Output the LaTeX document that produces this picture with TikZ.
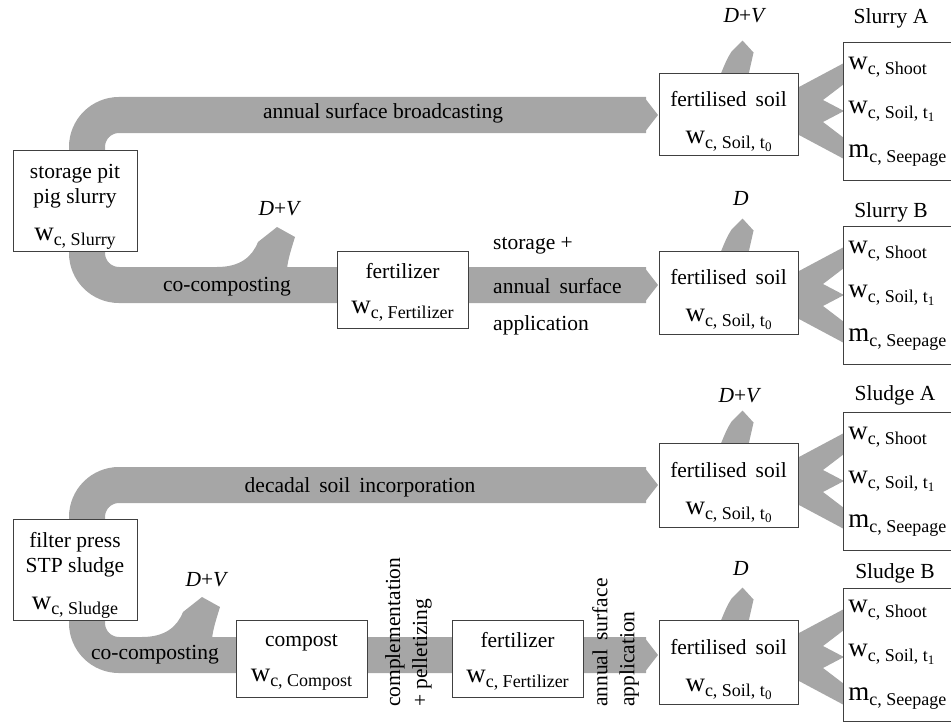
\documentclass[tikz,border=0pt]{standalone}
\usepackage{fontspec}
\setmainfont{Liberation Serif}
\usetikzlibrary{calc,backgrounds}
\definecolor{bandc}{RGB}{166,166,166}
\newcommand{\wsp}{\hspace{9pt}}
\newcommand{\ssp}{\hspace{4.5pt}}
\newcommand{\wv}[2]{{\fontsize{27}{27}\selectfont #1}\raisebox{-5pt}{\fontsize{18}{18}\selectfont #2}}
\newcommand{\tsub}[1]{\raisebox{-3pt}{\fontsize{13}{13}\selectfont #1}}
\begin{document}
\begin{tikzpicture}[x=1pt,y=-1pt,
  font=\fontsize{21.5}{25}\selectfont,
  box/.style={draw=black!75, line width=0.9pt, fill=white, inner sep=0pt, align=center},
  rbox/.style={draw=black!75, line width=0.9pt, fill=white, inner xsep=5pt, inner ysep=0pt, align=left, text width=112pt, minimum height=138pt, anchor=north west},
  lbl/.style={inner sep=0pt},
  band/.style={draw=bandc, line width=36pt, rounded corners=32pt},
  svent/.pic={\fill[bandc] (62,2) .. controls (66,-8) and (69,-15) .. (73,-21) -- (84,-32) -- (95,-20) -- (90,2) -- cycle;},
  bvent/.pic={\fill[bandc] (0,2) -- (0,0) .. controls (23,0) and (35,-10) .. (41,-25) -- (60,-40) -- (78,-30) .. controls (74,-17) and (71,-8) .. (70,2) -- cycle;},
  fork/.pic={\fill[bandc] (1,-24) -- (46,-48) -- (46,-27) -- (25,-11) -- (46,0) -- (25,11) -- (46,27) -- (46,48) -- (1,24) -- cycle;},
  head/.pic={\fill[bandc] (-1,-18) -- (13,0) -- (-1,18) -- cycle;}
]
\clip (0,0) rectangle (951,725);

% ---------- nodes ----------
\node[box, minimum width=124pt, minimum height=101pt] (pit) at (75,200.5)
  {\rule{0pt}{26pt}storage pit\\pig slurry\\[12pt]\wv{w}{c,\ssp Slurry}};
\node[box, minimum width=131pt, minimum height=77pt] (fertA) at (402.5,289.5)
  {\rule{0pt}{20pt}fertilizer\\[10pt]\wv{w}{c,\ssp Fertilizer}};
\node[box, minimum width=124pt, minimum height=101pt] (filter) at (75,569.5)
  {\rule{0pt}{26pt}filter press\\STP sludge\\[12pt]\wv{w}{c,\ssp Sludge}};
\node[box, minimum width=131pt, minimum height=77pt] (compost) at (301.5,658.5)
  {\rule{0pt}{20pt}compost\\[10pt]\wv{w}{c,\ssp Compost}};
\node[box, minimum width=131pt, minimum height=77pt] (fertB) at (517.5,658.5)
  {\rule{0pt}{20pt}fertilizer\\[10pt]\wv{w}{c,\ssp Fertilizer}};

\node[box, minimum width=139pt, minimum height=82pt] (soilA) at (728.5,114)
  {\rule{0pt}{30pt}fertilised\wsp soil\\[12pt]\wv{w}{c,\ssp Soil,\ssp t\tsub{0}}};
\node[box, minimum width=139pt, minimum height=83pt] (soilB) at (728.5,292.5)
  {\rule{0pt}{30pt}fertilised\wsp soil\\[12pt]\wv{w}{c,\ssp Soil,\ssp t\tsub{0}}};
\node[box, minimum width=139pt, minimum height=84pt] (soilC) at (728.5,485)
  {\rule{0pt}{30pt}fertilised\wsp soil\\[12pt]\wv{w}{c,\ssp Soil,\ssp t\tsub{0}}};
\node[box, minimum width=139pt, minimum height=84pt] (soilD) at (728.5,662)
  {\rule{0pt}{30pt}fertilised\wsp soil\\[12pt]\wv{w}{c,\ssp Soil,\ssp t\tsub{0}}};

\node[rbox] (resA) at (843,42)
  {\wv{w}{c,\ssp Shoot}\\[19pt]\wv{w}{c,\ssp Soil,\ssp t\tsub{1}}\\[19pt]\wv{m}{c,\ssp Seepage}};
\node[rbox] (resB) at (843,226)
  {\wv{w}{c,\ssp Shoot}\\[19pt]\wv{w}{c,\ssp Soil,\ssp t\tsub{1}}\\[19pt]\wv{m}{c,\ssp Seepage}};
\node[rbox] (resC) at (843,412)
  {\wv{w}{c,\ssp Shoot}\\[19pt]\wv{w}{c,\ssp Soil,\ssp t\tsub{1}}\\[19pt]\wv{m}{c,\ssp Seepage}};
\node[rbox, minimum height=133pt] (resD) at (843,588)
  {\wv{w}{c,\ssp Shoot}\\[19pt]\wv{w}{c,\ssp Soil,\ssp t\tsub{1}}\\[19pt]\wv{m}{c,\ssp Seepage}};

% ---------- labels ----------
\node[lbl] (tA) at (891,18) {Slurry A};
\node[lbl] (tB) at (891,212) {Slurry B};
\node[lbl] (tC) at (895,395) {Sludge A};
\node[lbl] (tD) at (895,573) {Sludge B};

\node[lbl] (dvA) at (745,16) {\textit{D}+\textit{V}};
\node[lbl] (dB) at (741,198) {\textit{D}};
\node[lbl] (dvC) at (740,396) {\textit{D}+\textit{V}};
\node[lbl] (dD) at (741,568) {\textit{D}};
\node[lbl] (dvB) at (280,209) {\textit{D}+\textit{V}};
\node[lbl] (dvD) at (207,580) {\textit{D}+\textit{V}};

\node[lbl] (lb1) at (383,113) {annual surface broadcasting};
\node[lbl] (lb2) at (227,287) {co-composting};
\node[lbl, anchor=west] (lb3a) at (493,246) {storage +};
\node[lbl, anchor=west] (lb3b) at (493,286) {annual\wsp surface};
\node[lbl, anchor=west] (lb3c) at (493,325) {application};
\node[lbl] (lb4) at (360,487) {decadal\wsp soil\wsp incorporation};
\node[lbl] (lb5) at (155,655) {co-composting};
\node[lbl, rotate=90, anchor=west, align=left] (lb6) at (408.5,707)
  {complementation\\[2pt]+ pelletizing};
\node[lbl, rotate=90, anchor=west, align=left] (lb7) at (615.5,707)
  {annual\wsp surface\\[2pt]application};

% ---------- bands ----------
\begin{scope}[on background layer]
  \coordinate (hA) at (646,115);
  \coordinate (hB) at (646,285);
  \coordinate (hC) at (646,485);
  \coordinate (hD) at (646,655);
  \draw[band] (hA) -- (87,115) -- (87,285) -- (hB);
  \draw[band] (hC) -- (87,485) -- (87,655) -- (hD);
  \pic at (645,115) {head};
  \pic at (645,285) {head};
  \pic at (645,485) {head};
  \pic at (645,655) {head};
  \pic at (217,267) {bvent};
  \pic at (142,637) {bvent};
  \pic at (soilA.north west) {svent};
  \pic at (soilB.north west) {svent};
  \pic at (soilC.north west) {svent};
  \pic at (soilD.north west) {svent};
  \pic at (798,111) {fork};
  \pic at (798,295) {fork};
  \pic at (798,481) {fork};
  \pic at (798,657) {fork};
\end{scope}
\end{tikzpicture}
\end{document}
